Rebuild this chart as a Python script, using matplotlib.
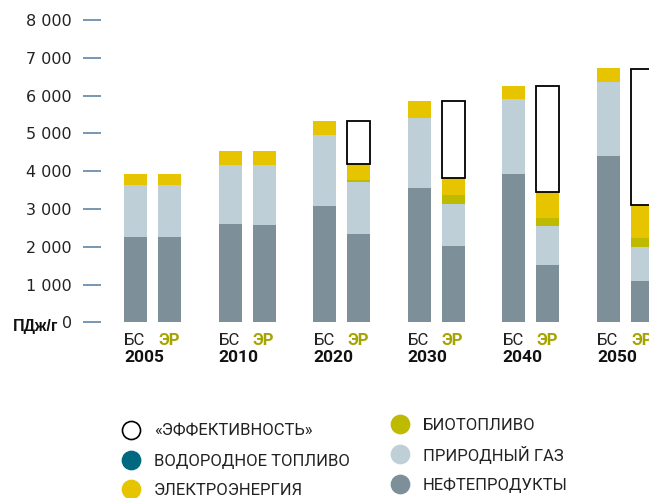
import numpy as np
import matplotlib.pyplot as plt
from matplotlib.transforms import blended_transform_factory
import matplotlib.font_manager as fm

# values in PJ per year
years = ['2005', '2010', '2020', '2030', '2040', '2050']
scenarios = ['БС', 'ЭР']

oil_bs = [2260, 2600, 3080, 3550, 3925, 4400]
gas_bs = [1370, 1560, 1870, 1850, 1985, 1960]
elec_bs = [290, 370, 370, 450, 340, 370]

oil_er = [2260, 2575, 2335, 2020, 1515, 1090]
gas_er = [1370, 1585, 1385, 1110, 1035, 900]
bio_er = [0, 0, 45, 240, 210, 240]
hydro_er = [0, 0, 0, 0, 0, 0]
elec_er = [290, 370, 415, 455, 695, 880]
eff_er = [0, 0, 1140, 2025, 2795, 3590]

yticks = [0, 1000, 2000, 3000, 4000, 5000, 6000, 7000, 8000]

c_oil = '#7d909a'
c_gas = '#bfcfd7'
c_elec = '#e6c500'
c_bio = '#bdba00'
c_hydro = '#00687f'
c_er = '#a6a400'
c_tick = '#6c8fae'

names = [f.name for f in fm.fontManager.ttflist]
narrow = 'Liberation Sans Narrow' if 'Liberation Sans Narrow' in names else 'Roboto'

fig = plt.figure(figsize=(6.49, 4.98), dpi=100)
W, H = 649, 498
ax = fig.add_axes([101 / W, (H - 322.3) / H, (649 - 101) / W, (322.3 - 20) / H])

step = 94.6
width = 23 / step
off = 34 / step
x_bs = np.arange(len(years))
x_er = x_bs + off

# base scenario
bottom = np.zeros(len(years))
for vals, col in [(oil_bs, c_oil), (gas_bs, c_gas), (elec_bs, c_elec)]:
    ax.bar(x_bs, vals, width, bottom=bottom, color=col, linewidth=0)
    bottom += np.array(vals)

# energy revolution scenario
bottom = np.zeros(len(years))
for vals, col in [(oil_er, c_oil), (gas_er, c_gas), (bio_er, c_bio),
                  (hydro_er, c_hydro), (elec_er, c_elec)]:
    ax.bar(x_er, vals, width, bottom=bottom, color=col, linewidth=0)
    bottom += np.array(vals)
eff = np.array(eff_er)
ax.bar(x_er[eff > 0], eff[eff > 0], width, bottom=bottom[eff > 0],
       facecolor='white', edgecolor='black', linewidth=1.3)

ax.set_xlim(-(135.5 - 101) / step, (649 - 135.5) / step)
ax.set_ylim(0, 8000)
ax.set_yticks(yticks)
ax.set_yticklabels([f'{v:,}'.replace(',', ' ') for v in yticks])
ax.tick_params(axis='y', length=13, width=1.3, color=c_tick, pad=8,
               labelsize=11.5, labelcolor='#222222')
ax.tick_params(axis='x', bottom=False, labelbottom=False)
for s in ax.spines.values():
    s.set_visible(False)

fig.text(58 / W, (H - 326) / H, 'ПДж/г', ha='right', va='center',
         fontsize=11.5, fontweight='bold', family='Liberation Sans', color='#111111')

trans = blended_transform_factory(ax.transData, ax.transAxes)
for i, yr in enumerate(years):
    ax.annotate(scenarios[0], (x_bs[i] - width / 2, 0), xycoords=trans,
                xytext=(0, -13), textcoords='offset points', ha='left', va='center',
                fontsize=12, family=narrow, color='#222222', annotation_clip=False)
    ax.annotate(scenarios[1], (x_er[i] - width / 2, 0), xycoords=trans,
                xytext=(0, -13), textcoords='offset points', ha='left', va='center',
                fontsize=12, family=narrow, fontweight='bold', color=c_er,
                annotation_clip=False)
    ax.annotate(yr, (x_bs[i] - width / 2, 0), xycoords=trans,
                xytext=(0, -25.5), textcoords='offset points', ha='left', va='center',
                fontsize=12.5, family=narrow, fontweight='bold', color='#111111',
                annotation_clip=False)

# legend
lax = fig.add_axes([0, 0, 1, 1])
lax.set_xlim(0, W)
lax.set_ylim(H, 0)
lax.axis('off')
legend_items = [
    ('«ЭФФЕКТИВНОСТЬ»', 'white', 131, 430),
    ('ВОДОРОДНОЕ ТОПЛИВО', c_hydro, 131, 460),
    ('ЭЛЕКТРОЭНЕРГИЯ', c_elec, 131, 489),
    ('БИОТОПЛИВО', c_bio, 400, 424),
    ('ПРИРОДНЫЙ ГАЗ', c_gas, 400, 454),
    ('НЕФТЕПРОДУКТЫ', c_oil, 400, 484),
]
for label, col, lx, ly in legend_items:
    ec = 'black' if col == 'white' else col
    lax.plot(lx, ly, 'o', ms=13, mfc=col, mec=ec, mew=1.2)
    lax.text(lx + 23, ly + 1, label, ha='left', va='center', fontsize=12,
             family=narrow, color='#222222')

fig.savefig('out.png', dpi=100)
